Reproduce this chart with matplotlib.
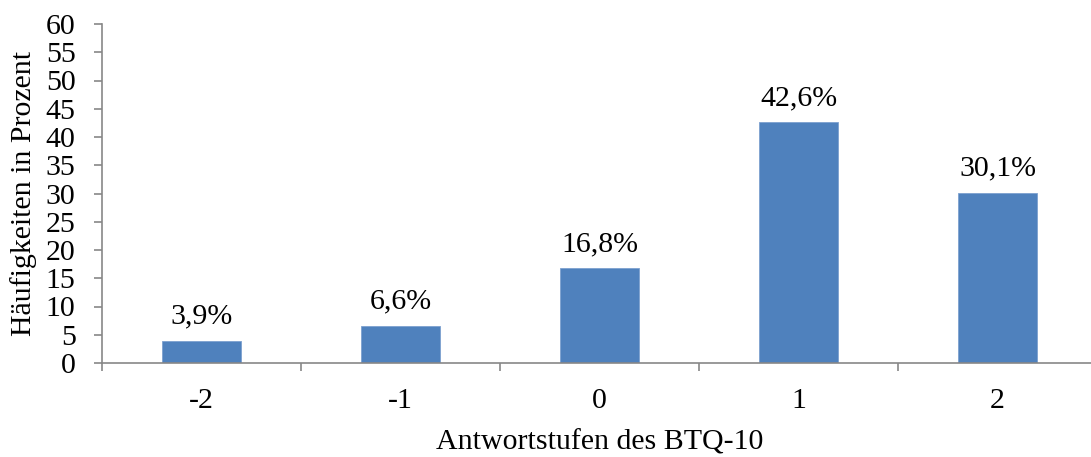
import matplotlib.pyplot as plt
from matplotlib.ticker import MultipleLocator, FixedLocator

# Antwortverteilung BTQ-10
stufen = ["-2", "-1", "0", "1", "2"]
anteile = [3.9, 6.6, 16.8, 42.6, 30.1]

plt.rcParams["font.family"] = ["Liberation Serif", "DejaVu Serif"]
grau = "#878787"
blau = "#4F81BD"
fs = 21.5

fig = plt.figure(figsize=(10.91, 4.57), dpi=100)
ax = fig.add_axes([102 / 1091, 94 / 457, 995 / 1091, 339 / 457])

pos = list(range(len(stufen)))
ax.bar(pos, anteile, width=0.4, color=blau, edgecolor="#7DA0CF", linewidth=0.6, zorder=2)

for x, v in zip(pos, anteile):
    ax.annotate(f"{v:.1f}%".replace(".", ","), (x, v), xytext=(0, 8),
                textcoords="offset points", ha="center", va="bottom", fontsize=fs)

ax.set_xlim(-0.5, len(stufen) - 0.5)
ax.set_ylim(0, 60)
ax.yaxis.set_major_locator(MultipleLocator(5))

ax.set_xticks(pos)
ax.set_xticklabels(stufen)
ax.xaxis.set_minor_locator(FixedLocator([p - 0.5 for p in pos]))
ax.tick_params(axis="x", which="major", length=0, pad=18, labelsize=fs)
ax.tick_params(axis="x", which="minor", length=6, width=1.2, color=grau, direction="out")
ax.tick_params(axis="y", length=6, width=1.2, color=grau, direction="out", pad=13, labelsize=fs)

for side in ["top", "right"]:
    ax.spines[side].set_visible(False)
for side in ["left", "bottom"]:
    ax.spines[side].set_color(grau)
    ax.spines[side].set_linewidth(1.2)

ax.set_xlabel("Antwortstufen des BTQ-10", fontsize=fs, labelpad=11)
ax.set_ylabel("Häufigkeiten in Prozent", fontsize=fs, labelpad=6)

fig.savefig("out.png", dpi=100)
